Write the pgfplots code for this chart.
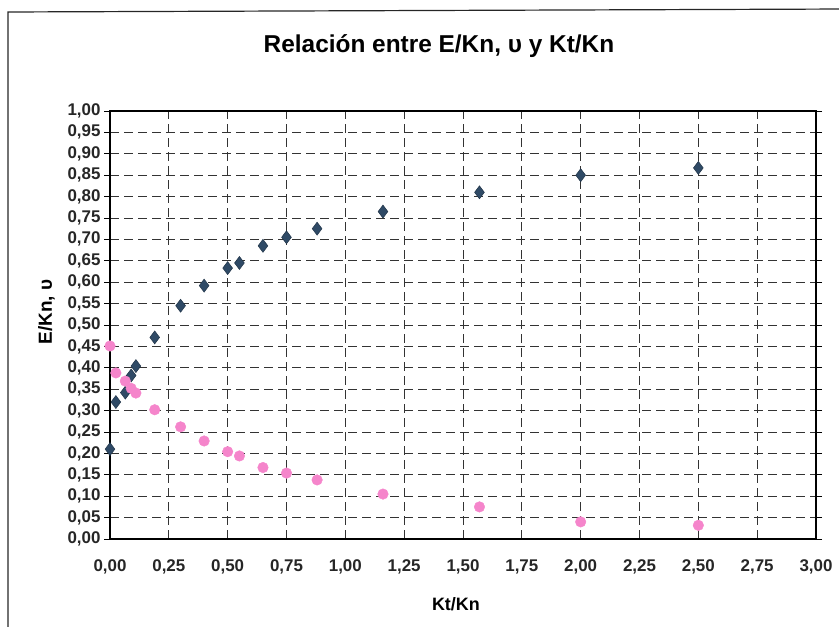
\documentclass[border=0pt]{standalone}
\usepackage{pgfplots}
\pgfplotsset{compat=1.18}
\usepackage{fontspec}
\setmainfont{Liberation Sans}
\definecolor{dblue}{HTML}{2F4A66}
\definecolor{pinkc}{HTML}{F585CB}
\begin{document}
\begin{tikzpicture}
\useasboundingbox (0,0) rectangle (839bp,627bp);
\draw[line width=1.2bp, black!85] (8bp,-5bp) -- (8bp,615bp) -- (850bp,618bp);
\begin{axis}[
 at={(110bp,88bp)}, anchor=south west,
 scale only axis, width=706bp, height=428bp,
 xmin=0, xmax=3, ymin=0, ymax=1,
 xtick={0,0.25,0.5,0.75,1,1.25,1.5,1.75,2,2.25,2.5,2.75,3},
 ytick={0,0.05,0.1,0.15,0.2,0.25,0.3,0.35,0.4,0.45,0.5,0.55,0.6,0.65,0.7,0.75,0.8,0.85,0.9,0.95,1},
 /pgf/number format/.cd, fixed, fixed zerofill, precision=2, use comma, assume math mode=true,
 /pgfplots/.cd,
 tick label style={font=\bfseries\fontsize{17}{17}\selectfont, black!85},
 xticklabel style={yshift=-11bp},
 yticklabel style={xshift=0bp},
 xtick style={draw=none},
 ytick style={black, line width=0.9bp},
 tick align=outside, major tick length=6bp,
 grid=major,
 major grid style={black!80, line width=0.85bp, dash pattern=on 9bp off 5bp},
 axis line style={black, line width=1.2bp},
 title={\bfseries\fontsize{24.5}{25}\selectfont Relación entre E/Kn, υ y Kt/Kn},
 title style={at={(axis description cs:0.466,1.137)}, anchor=center},
 xlabel={\bfseries\fontsize{18}{18}\selectfont Kt/Kn},
 xlabel style={at={(axis description cs:0.49,-0.152)}, anchor=center},
 ylabel={\bfseries\fontsize{19}{19}\selectfont E/Kn, υ},
 ylabel style={at={(axis description cs:-0.09,0.53)}, anchor=center, rotate=0},
 clip=false,
]
\addplot[only marks, mark=diamond*, mark size=6.5bp, mark options={fill=dblue, draw=dblue!70!black, line width=0.5bp}] coordinates {
(0,0.21) (0.025,0.32) (0.065,0.342) (0.09,0.382) (0.11,0.404) (0.19,0.471)
(0.30,0.545) (0.40,0.592) (0.50,0.633) (0.55,0.645) (0.65,0.685) (0.75,0.705)
(0.88,0.725) (1.16,0.765) (1.57,0.81) (2.00,0.85) (2.50,0.867)
};
\addplot[only marks, mark=*, mark size=5.3bp, mark options={fill=pinkc, draw=pinkc}] coordinates {
(0,0.451) (0.025,0.388) (0.065,0.369) (0.09,0.352) (0.11,0.341) (0.19,0.302)
(0.30,0.262) (0.40,0.229) (0.50,0.204) (0.55,0.194) (0.65,0.167) (0.75,0.154)
(0.88,0.138) (1.16,0.105) (1.57,0.075) (2.00,0.04) (2.50,0.032)
};
\end{axis}
\end{tikzpicture}
\end{document}
